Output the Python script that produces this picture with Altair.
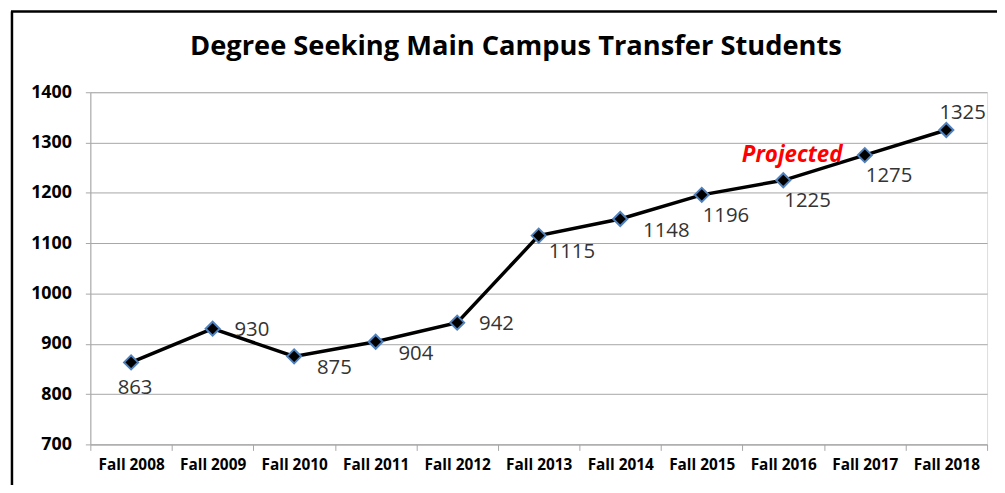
import altair as alt
import pandas as pd

terms = ["Fall 2008", "Fall 2009", "Fall 2010", "Fall 2011", "Fall 2012", "Fall 2013",
         "Fall 2014", "Fall 2015", "Fall 2016", "Fall 2017", "Fall 2018"]
students = [863, 930, 875, 904, 942, 1115, 1148, 1196, 1225, 1275, 1325]
label_place = ["below", "right", "right-low", "right-low", "right", "below-right",
               "right-low", "below-start", "below-start", "below-start", "above"]
y_ticks = [700, 800, 900, 1000, 1100, 1200, 1300, 1400]
note_text = ["Projected"]
note_term = ["Fall 2016"]
note_value = [1276]

title_text = "Degree Seeking Main Campus Transfer Students"

df = pd.DataFrame({"term": terms, "students": students, "place": label_place})
notes = pd.DataFrame({"text": note_text, "term": note_term, "value": note_value})
frame_df = pd.DataFrame({"k": [0]})

FONT = "Open Sans"
GRAY = "#a6a6a6"

x_enc = alt.X(
    "term:N", sort=terms, title=None,
    scale=alt.Scale(type="band", domain=terms, paddingInner=0, paddingOuter=0),
    axis=alt.Axis(labelAngle=0, labelFont=FONT, labelFontWeight="bold", labelFontSize=15.5,
                  labelColor="black", domainColor=GRAY, tickColor=GRAY, tickSize=6,
                  tickBand="extent", labelPadding=7, grid=False),
)
y_enc = alt.Y(
    "students:Q", title=None,
    scale=alt.Scale(domain=[700, 1400], nice=False, zero=False),
    axis=alt.Axis(values=y_ticks, format="d", labelFont=FONT, labelFontWeight="bold",
                  labelFontSize=18, labelColor="black", domainColor=GRAY, tickColor=GRAY,
                  tickSize=5, gridColor=GRAY, gridWidth=1, labelPadding=14),
)

base = alt.Chart(df)

line = base.mark_line(color="black", strokeWidth=3.5).encode(x=x_enc, y=y_enc)
points = base.mark_point(shape="diamond", filled=True, fill="black", stroke="#4f81bd",
                         strokeWidth=2, size=200, opacity=1).encode(x=x_enc, y=y_enc)

placements = {
    "below": dict(align="center", dx=4, dy=26),
    "right": dict(align="left", dx=22, dy=1),
    "right-low": dict(align="left", dx=23, dy=12),
    "below-right": dict(align="left", dx=10, dy=17),
    "below-start": dict(align="left", dx=1, dy=21),
    "above": dict(align="left", dx=-7, dy=-17),
}
label_layers = []
for name, st in placements.items():
    label_layers.append(
        base.transform_filter(alt.datum.place == name).mark_text(
            font=FONT, fontSize=20.5, color="#333333", baseline="middle", **st
        ).encode(x=x_enc, y=y_enc, text=alt.Text("students:Q"))
    )

note = alt.Chart(notes).mark_text(
    font=FONT, fontSize=22.5, fontWeight="bold", fontStyle="italic", color="#ff0000",
    baseline="middle", align="center", dx=9
).encode(x=alt.X("term:N", sort=terms), y=alt.Y("value:Q"), text="text:N")

frame_left = alt.Chart(frame_df).mark_rule(color="black", strokeWidth=2.5).encode(
    x=alt.value(-79), y=alt.value(-81.5), y2=alt.value(440)
)
frame_top = alt.Chart(frame_df).mark_rule(color="black", strokeWidth=2.5).encode(
    x=alt.value(-80), x2=alt.value(960), y=alt.value(-81.5)
)

chart = alt.layer(frame_left, frame_top, line, points, *label_layers, note).properties(
    width=904, height=355,
    padding={"left": 83, "top": 83, "right": 10, "bottom": 39},
    autosize=alt.AutoSizeParams(type="none"),
    title=alt.TitleParams(title_text, font=FONT, fontSize=27.5, fontWeight="bold", color="black",
                          anchor="middle", frame="group", dx=-23, offset=0, dy=73,
                          baseline="alphabetic"),
).configure_view(stroke="#8eb4e3", strokeWidth=1.2).configure(background="white")

chart.save("out.html", embed_options={"renderer": "svg", "actions": False})
